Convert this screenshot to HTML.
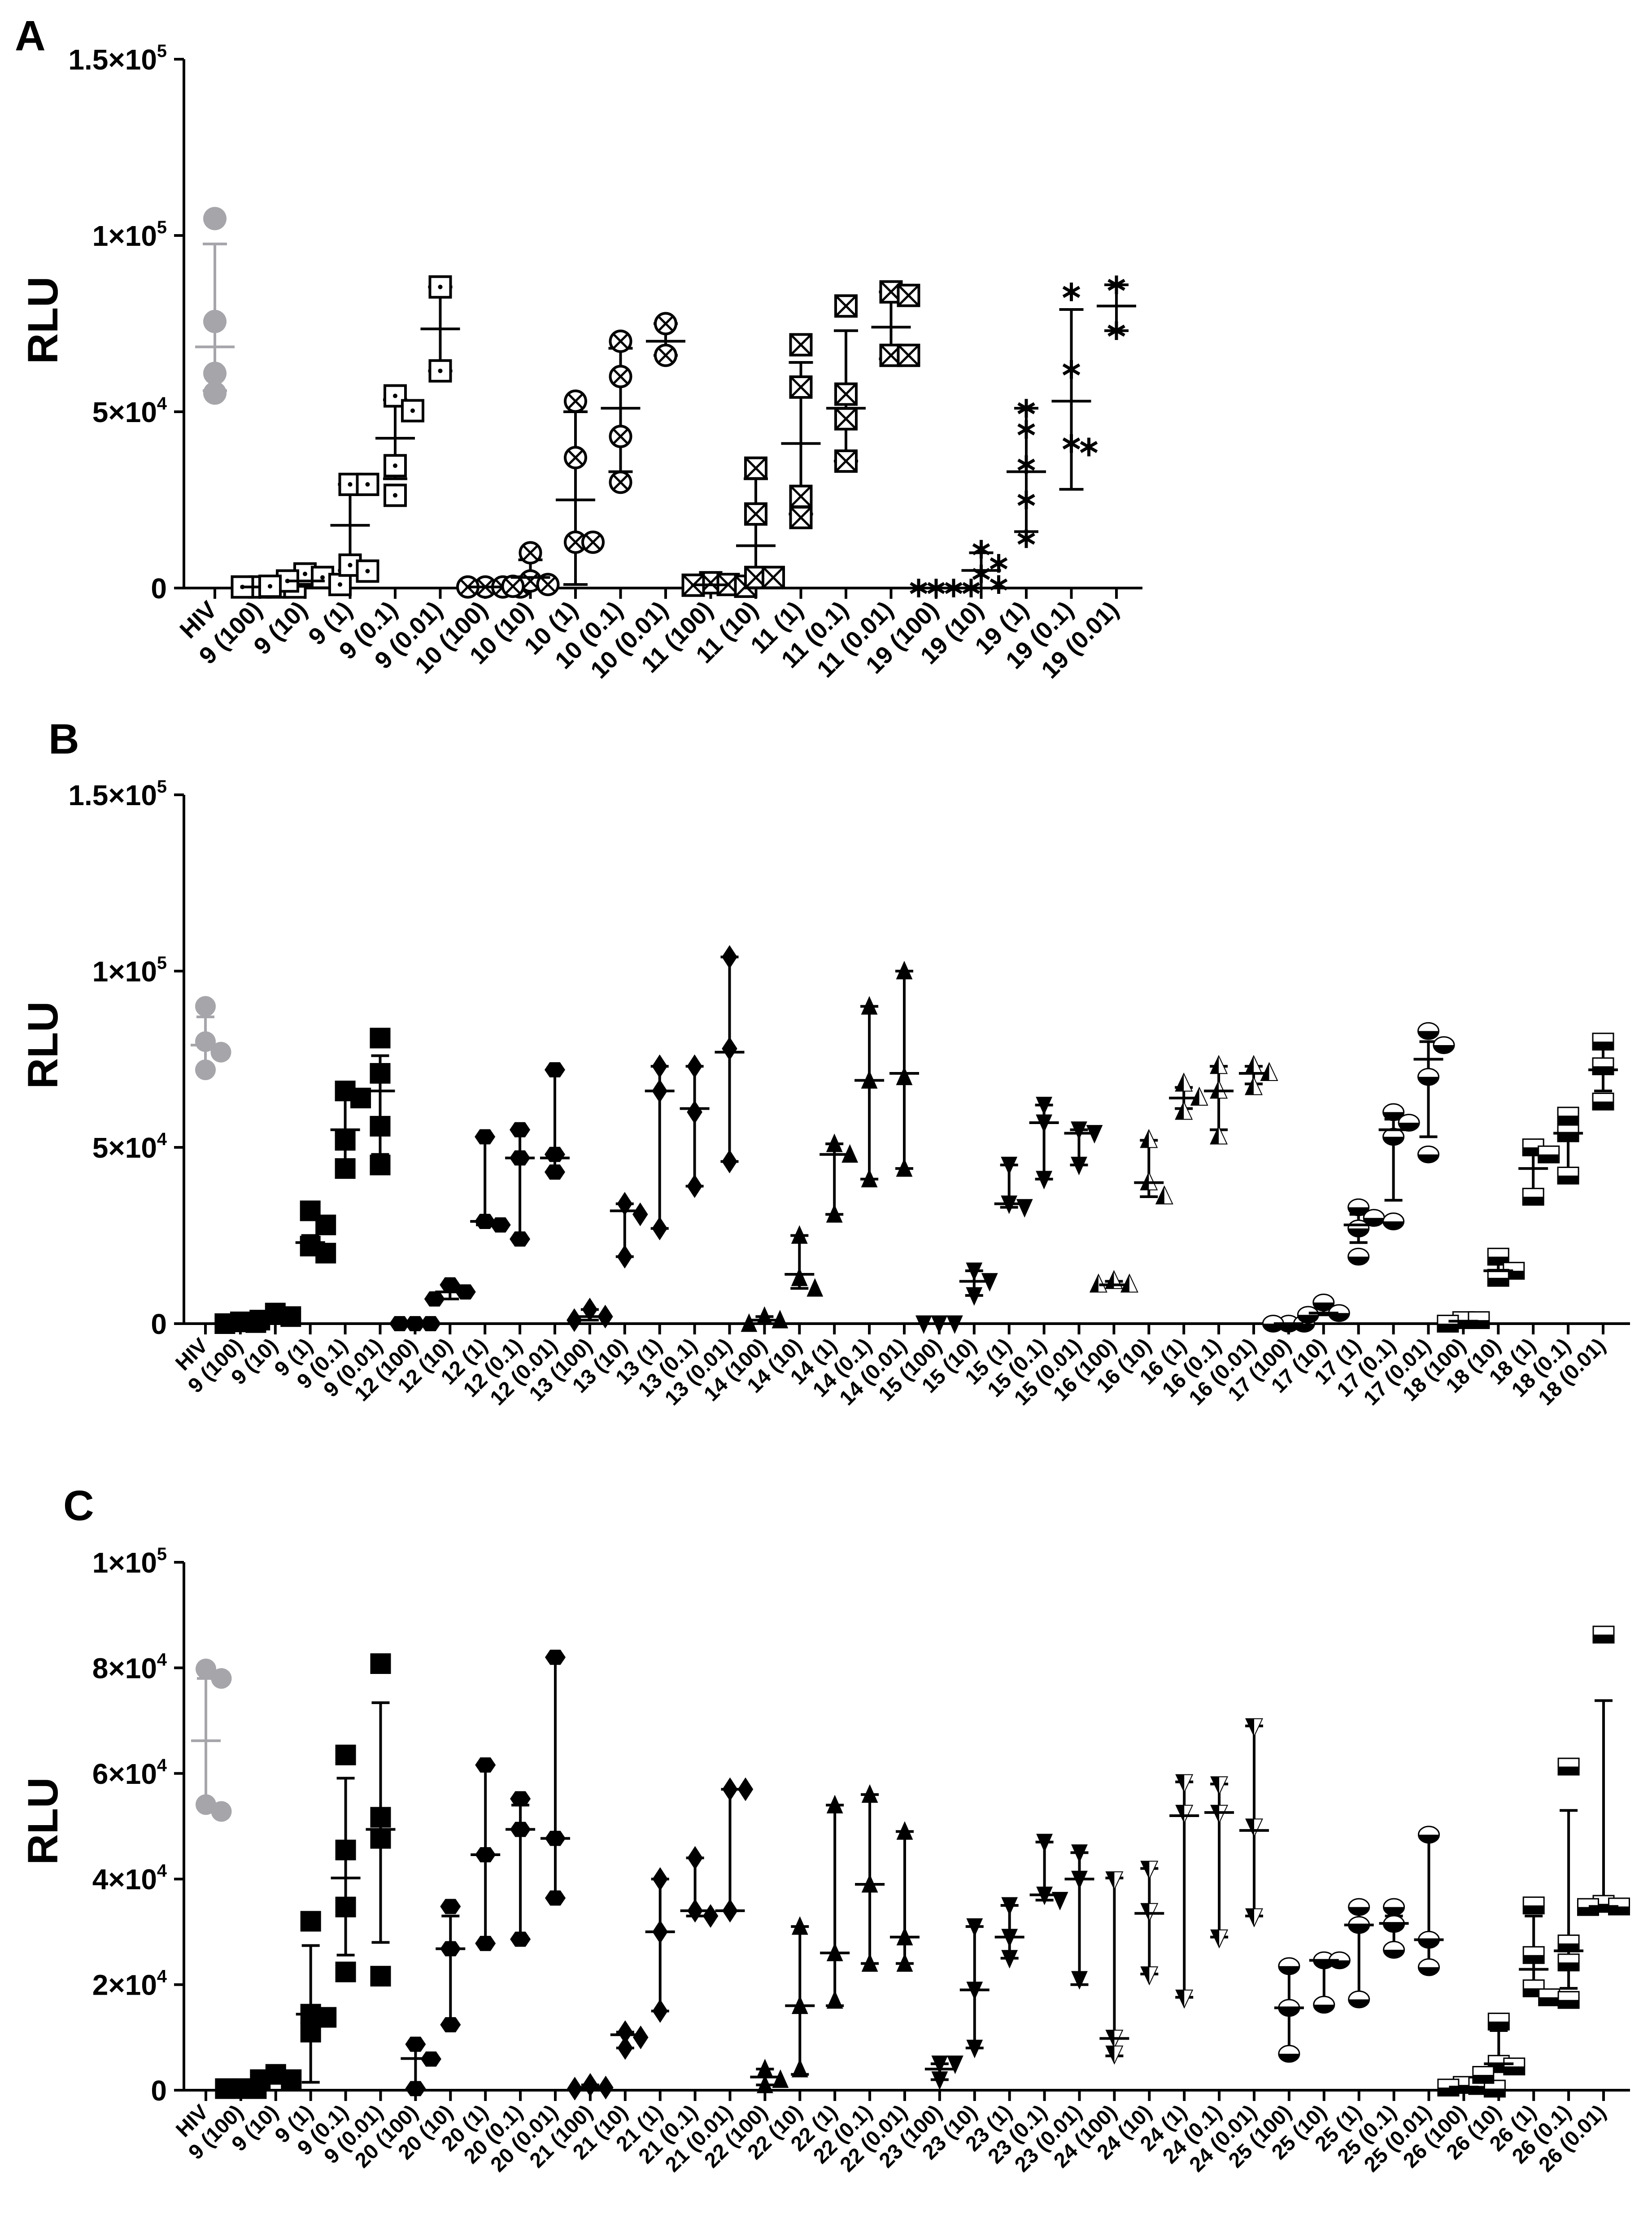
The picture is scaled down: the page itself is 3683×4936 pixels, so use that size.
<!DOCTYPE html>
<html><head><meta charset="utf-8"><style>
html,body{margin:0;padding:0;background:#fff}
svg{display:block}
text{font-family:"Liberation Sans",sans-serif;font-weight:bold;fill:#000}
</style></head><body>
<svg id="chart" width="3683" height="4936" viewBox="0 0 3683 4936" xmlns="http://www.w3.org/2000/svg">
<text x="33" y="112" font-size="95">A</text>
<text x="108" y="1680" font-size="95">B</text>
<text x="141" y="3389" font-size="95">C</text>
</svg>
<script>
// ---------- Panel A data ----------
const catsA = ["HIV","9 (100)","9 (10)","9 (1)","9 (0.1)","9 (0.01)","10 (100)","10 (10)","10 (1)","10 (0.1)","10 (0.01)","11 (100)","11 (10)","11 (1)","11 (0.1)","11 (0.01)","19 (100)","19 (10)","19 (1)","19 (0.1)","19 (0.01)"];
const ptsA = [[104800,75600,60900,55300],[300,300,300,300],[4000,2000,1000,3000,500],[29400,29400,6500,4800],[50300,54500,34700,26300],[85400,61600],
[300,300,300,300],[10000,1000,2000,500],[53000,37000,13000,13000],[70000,60000,43000,30000],[75000,66000],
[1500,800,500,1000],[34000,21000,3000,3000],[69000,57000,26000,20000],[80000,55000,48000,36000],[84000,83000,66000,66000],
[0,0,0,0],[11000,7000,4000,1000],[51000,45000,35000,25000,14000],[84000,62000,41000,40000],[86000,73000]];
const midA = [68400,300,2000,17800,42500,73500,300,3000,25000,51000,70000,900,12000,41000,51000,74000,0,5000,33000,53000,80000];
const loA  = [56000,300,500,5000,31000,61600,300,0,1000,33000,66000,300,0,21000,36000,65000,0,0,16000,28000,73000];
const hiA  = [97600,1000,4000,29400,53400,85400,300,8000,50000,68000,75000,1500,31000,64000,73000,84000,0,10000,51000,79000,86000];
const mkA  = ["gray","sqdot","sqdot","sqdot","sqdot","sqdot","circx","circx","circx","circx","circx","sqx","sqx","sqx","sqx","sqx","star","star","star","star","star"];
const ticksA = [0,50000,100000,150000];
const tickLabA = [["0",""],["5×10","4"],["1×10","5"],["1.5×10","5"]];

// ---------- Panel B data ----------
const catsB = ["HIV","9 (100)","9 (10)","9 (1)","9 (0.1)","9 (0.01)","12 (100)","12 (10)","12 (1)","12 (0.1)","12 (0.01)","13 (100)","13 (10)","13 (1)","13 (0.1)","13 (0.01)","14 (100)","14 (10)","14 (1)","14 (0.1)","14 (0.01)","15 (100)","15 (10)","15 (1)","15 (0.1)","15 (0.01)","16 (100)","16 (10)","16 (1)","16 (0.1)","16 (0.01)","17 (100)","17 (10)","17 (1)","17 (0.1)","17 (0.01)","18 (100)","18 (10)","18 (1)","18 (0.1)","18 (0.01)"];
const ptsB = [[90000,80000,77000,72000],[0,300,500],[2000,1000,3000],[32000,28000,22000,20000],[66000,64000,52000,44000],[81000,71000,56000,45000],
[0,0,0],[11000,9000,7000],[53000,29000,28000],[55000,47000,24000],[72000,48000,43000],
[4000,1000,2000],[34000,31000,19000],[73000,66000,27000],[73000,60000,39000],[104000,78000,46000],
[1000,2000,0],[25000,13000,10000],[51000,48000,31000],[90000,69000,41000],[100000,70000,44000],
[0,0,0],[15000,12000,8000],[45000,34000,33000],[62000,57000,41000],[55000,54000,45000],
[12000,11000,11000],[52000,40000,36000],[68000,64000,60000],[73000,66000,53000],[73000,71000,67000],
[0,0,0],[6000,3000,2500],[33000,30000,27000,19000],[60000,57000,53000,29000],[83000,79000,70000,48000],
[0,1000,1000],[19000,15000,13000],[50000,48000,36000],[59000,54000,42000],[80000,73000,63000]];
const midB = [79000,200,2000,23000,55000,66000,0,9000,29000,47000,47000,2000,32000,66000,61000,77000,1000,14000,48000,69000,71000,0,12000,34000,57000,54000,11000,40000,64000,66000,71000,0,3000,28000,55000,75000,700,15000,44000,54000,72000];
const loB  = [72000,0,1000,20000,45000,48000,0,7000,28000,24000,43000,1000,19000,27000,39000,46000,0,10000,31000,41000,44000,0,8000,33000,41000,45000,11000,36000,61000,55000,68000,0,2500,23000,35000,53000,0,13000,36000,42000,66000];
const hiB  = [87000,500,3000,25000,65000,76000,0,11000,53000,55000,72000,4000,34000,73000,73000,104000,2000,25000,51000,90000,100000,0,15000,45000,62000,55000,12000,52000,67000,73000,73000,0,6000,31000,58000,80000,1000,17000,48000,57000,78000];
const mkB  = ["gray","square","square","square","square","square","hex","hex","hex","hex","hex","diamond","diamond","diamond","diamond","diamond","tri","tri","tri","tri","tri","tridown","tridown","tridown","tridown","tridown","halftri","halftri","halftri","halftri","halftri","halfcirc","halfcirc","halfcirc","halfcirc","halfcirc","halfsq","halfsq","halfsq","halfsq","halfsq"];
const ticksB = [0,50000,100000,150000];
const tickLabB = [["0",""],["5×10","4"],["1×10","5"],["1.5×10","5"]];

// ---------- Panel C data ----------
const catsC = ["HIV","9 (100)","9 (10)","9 (1)","9 (0.1)","9 (0.01)","20 (100)","20 (10)","20 (1)","20 (0.1)","20 (0.01)","21 (100)","21 (10)","21 (1)","21 (0.1)","21 (0.01)","22 (100)","22 (10)","22 (1)","22 (0.1)","22 (0.01)","23 (100)","23 (10)","23 (1)","23 (0.1)","23 (0.01)","24 (100)","24 (10)","24 (1)","24 (0.1)","24 (0.01)","25 (100)","25 (10)","25 (1)","25 (0.1)","25 (0.01)","26 (100)","26 (10)","26 (1)","26 (0.1)","26 (0.01)"];
const ptsC = [[79800,78000,54100,52800],[300,300,300],[3000,2000,2000],[32000,14400,13800,11000],[63500,45500,34700,22400],[80800,51700,47700,21600],
[8700,5900,300],[34800,26800,12400],[61600,44600,27800],[55200,49400,28600],[82000,47700,36400],
[1000,500,300],[11000,10000,8000],[40000,30000,15000],[44000,34000,33000],[57000,57000,34000],
[4000,2000,1000],[31000,16000,4000],[54000,26000,17000],[56000,39000,24000],[49000,29000,24000],
[5000,5000,2000],[31000,19000,8000],[35000,29000,25000],[47000,37000,36000],[45000,40000,21000],
[40000,10000,7000],[42000,34000,22000],[58400,52600,17600],[58000,52600,29000],[69000,50000,33000],
[23500,15600,6900],[24600,24600,16200],[34700,31300,17200],[34700,31500,26600],[48400,28500,23300],
[500,1000,300,800],[13000,5000,4500,2900],[35000,25600,19300,17600],[61300,27800,24200,17100],[86300,35300,34800,34700]];
const midC = [66200,300,2300,14400,40200,49400,6000,26800,44600,49400,47700,500,10500,30000,34000,34000,2500,16000,26000,39000,29000,4000,19000,29000,37000,40000,9800,33500,52000,52600,49200,15600,24600,31300,31600,28500,600,5000,22900,26400,34800];
const loC  = [54000,300,2000,1500,25600,28000,300,12400,27800,28600,36400,300,8000,15000,33000,34000,1000,3000,16000,24000,24000,2000,8000,25000,36000,20000,6500,22000,17600,29000,33000,6900,16200,17200,26600,23300,300,3500,19300,19300,34700];
const hiC  = [78000,300,3000,27400,59100,73400,8700,33000,61600,54000,82000,1000,11000,40000,44000,57000,4000,31000,54000,56000,49000,5000,31000,35000,47000,45000,40200,42000,58400,58000,69000,23500,24600,34700,33000,48400,1000,11300,33000,53000,73800];
const mkC  = ["gray","square","square","square","square","square","hex","hex","hex","hex","hex","diamond","diamond","diamond","diamond","diamond","tri","tri","tri","tri","tri","tridown","tridown","tridown","tridown","tridown","halftridown","halftridown","halftridown","halftridown","halftridown","halfcirc","halfcirc","halfcirc","halfcirc","halfcirc","halfsq","halfsq","halfsq","halfsq","halfsq"];
const ticksC = [0,20000,40000,60000,80000,100000];
const tickLabC = [["0",""],["2×10","4"],["4×10","4"],["6×10","4"],["8×10","4"],["1×10","5"]];

const NS = "http://www.w3.org/2000/svg";
const svg = document.getElementById("chart");
function mk(tag, attrs, parent){
  const e = document.createElementNS(NS, tag);
  for (const k in attrs) e.setAttribute(k, attrs[k]);
  (parent||svg).appendChild(e);
  return e;
}

function drawMarker(g, type, cx, cy, s){
  const h = s/2, sw = 6;
  let col = "#000";
  if (type === "gray"){
    mk("circle",{cx:cx,cy:cy,r:h,fill:"#a5a5aa"},g); return;
  }
  if (type === "sqdot"){
    mk("rect",{x:cx-h+3,y:cy-h+3,width:s-6,height:s-6,fill:"#fff",stroke:col,"stroke-width":sw},g);
    mk("circle",{cx:cx,cy:cy,r:5,fill:col},g);
  } else if (type === "circx"){
    mk("circle",{cx:cx,cy:cy,r:h-3,fill:"#fff",stroke:col,"stroke-width":sw},g);
    const d = (h-3)*0.7;
    mk("path",{d:`M${cx-d},${cy-d}L${cx+d},${cy+d}M${cx+d},${cy-d}L${cx-d},${cy+d}`,stroke:col,"stroke-width":5},g);
  } else if (type === "sqx"){
    mk("rect",{x:cx-h+3,y:cy-h+3,width:s-6,height:s-6,fill:"#fff",stroke:col,"stroke-width":sw},g);
    mk("path",{d:`M${cx-h+3},${cy-h+3}L${cx+h-3},${cy+h-3}M${cx+h-3},${cy-h+3}L${cx-h+3},${cy+h-3}`,stroke:col,"stroke-width":5},g);
  } else if (type === "star"){
    let d = "";
    for (let i=0;i<3;i++){ const a = Math.PI/2 + i*Math.PI/3; const dx=Math.cos(a)*h*0.8, dy=Math.sin(a)*h*0.8; d += `M${cx-dx},${cy-dy}L${cx+dx},${cy+dy}`; }
    mk("path",{d:d,stroke:col,"stroke-width":7},g);
  } else if (type === "square"){
    mk("rect",{x:cx-h,y:cy-h,width:s,height:s,fill:col},g);
  } else if (type === "hex"){
    let p=[]; for(let i=0;i<6;i++){const a=i*Math.PI/3; p.push((cx+Math.cos(a)*h)+","+(cy+Math.sin(a)*h*0.85));}
    mk("polygon",{points:p.join(" "),fill:col},g);
  } else if (type === "diamond"){
    mk("polygon",{points:`${cx},${cy-h*1.15} ${cx+h*0.75},${cy} ${cx},${cy+h*1.15} ${cx-h*0.75},${cy}`,fill:col},g);
  } else if (type === "tri"){
    mk("polygon",{points:`${cx},${cy-h} ${cx+h*0.8},${cy+h*0.8} ${cx-h*0.8},${cy+h*0.8}`,fill:col},g);
  } else if (type === "tridown"){
    mk("polygon",{points:`${cx},${cy+h} ${cx+h*0.8},${cy-h*0.8} ${cx-h*0.8},${cy-h*0.8}`,fill:col},g);
  } else if (type === "halftri"){
    mk("polygon",{points:`${cx},${cy-h} ${cx+h*0.8},${cy+h*0.7} ${cx-h*0.8},${cy+h*0.7}`,fill:"#fff",stroke:"#000","stroke-width":2},g);
    mk("polygon",{points:`${cx},${cy-h} ${cx},${cy+h*0.7} ${cx-h*0.8},${cy+h*0.7}`,fill:col},g);
  } else if (type === "halftridown"){
    mk("polygon",{points:`${cx},${cy+h} ${cx+h*0.8},${cy-h*0.7} ${cx-h*0.8},${cy-h*0.7}`,fill:"#fff",stroke:"#000","stroke-width":2},g);
    mk("polygon",{points:`${cx},${cy+h} ${cx},${cy-h*0.7} ${cx-h*0.8},${cy-h*0.7}`,fill:col},g);
  } else if (type === "halfcirc"){
    mk("ellipse",{cx:cx,cy:cy,rx:h,ry:h*0.8,fill:"#fff",stroke:"#000","stroke-width":3},g);
    mk("path",{d:`M${cx-h},${cy}A${h},${h*0.8} 0 0 0 ${cx+h},${cy}Z`,fill:col},g);
  } else if (type === "halfsq"){
    mk("rect",{x:cx-h,y:cy-h*0.8,width:s,height:s*0.8,fill:"#fff",stroke:"#000","stroke-width":3},g);
    mk("rect",{x:cx-h,y:cy,width:s,height:h*0.8,fill:col},g);
  }
}

function panel(id, cats, pts, mid, lo, hi, mks, ticks, tickLab, P){
  const yS = v => P.y0 - v*P.k;
  const xS = i => P.x0 + i*P.dx;
  const g = mk("g",{});
  
  
  const ya = mk("line",{x1:P.ax,y1:yS(ticks[ticks.length-1]),x2:P.ax,y2:P.y0+3,stroke:"#000","stroke-width":6},g);
  
  
  const xa = mk("line",{x1:P.ax-22,y1:P.y0,x2:P.xe,y2:P.y0,stroke:"#000","stroke-width":6},g);
  
  
  ticks.forEach((t,i)=>{
    const y = yS(t);
    mk("line",{x1:P.ax-22,y1:y,x2:P.ax,y2:y,stroke:"#000","stroke-width":6},g);
    const tx = mk("text",{x:P.ax-38,y:y+23,"font-size":P.tf,"text-anchor":"end"},g);
    
    
    tx.textContent = tickLab[i][0];
    if (tickLab[i][1]){
      const sp = mk("tspan",{dy:-28,"font-size":P.tf*0.62},tx);
      sp.textContent = tickLab[i][1];
    }
  });
  const yl = mk("text",{x:0,y:0,"font-size":P.rf,"text-anchor":"middle",transform:`translate(${P.rx},${P.ry}) rotate(-90)`},g);
  
  
  yl.textContent = "RLU";
  cats.forEach((c,i)=>{
    const x = xS(i);
    mk("line",{x1:x,y1:P.y0,x2:x,y2:P.y0+24,stroke:"#000","stroke-width":6},g);
    const lx = x+8, ly = P.y0+52;
    const t = mk("text",{x:0,y:0,"font-size":P.lf,"text-anchor":"end",transform:`translate(${lx},${ly}) rotate(-45)`},g);
    
    
    t.textContent = c;
  });
  cats.forEach((c,i)=>{
    const x = xS(i);
    const col = mks[i]==="gray" ? "#a5a5aa" : "#000";
    const eg = mk("g",{},g);
    
    
    mk("line",{x1:x,y1:yS(hi[i]),x2:x,y2:yS(lo[i]),stroke:col,"stroke-width":6},eg);
    mk("line",{x1:x-P.cap/2,y1:yS(hi[i]),x2:x+P.cap/2,y2:yS(hi[i]),stroke:col,"stroke-width":6},eg);
    mk("line",{x1:x-P.cap/2,y1:yS(lo[i]),x2:x+P.cap/2,y2:yS(lo[i]),stroke:col,"stroke-width":6},eg);
    const placed = [];
    const s = P.ms;
    const order = pts[i].map((v,j)=>j).sort((a,b)=>pts[i][b]-pts[i][a]);
    order.forEach(j=>{
      const py = yS(pts[i][j]);
      const cand = [0,1,-1,2,-2,3,-3];
      let off = x;
      for (const k of cand){
        const px = x + k*s*0.75;
        if (placed.every(q => Math.hypot(q[0]-px, q[1]-py) >= s*0.75)){ off = px; break; }
      }
      placed.push([off,py]);
      const mg = mk("g",{},g);
      
      
      drawMarker(mg, mks[i], off, py, s);
    });
    const ml = mk("line",{x1:x-P.mw/2,y1:yS(mid[i]),x2:x+P.mw/2,y2:yS(mid[i]),stroke:col,"stroke-width":6},g);
    
    
  });
}

panel("panel-a", catsA, ptsA, midA, loA, hiA, mkA, ticksA, tickLabA,
  {ax:410, y0:1311, k:393/50000, x0:479, dx:100.5, xe:2547, tf:64, lf:54, rf:95, rx:128, ry:714, ms:52, mw:88, cap:54});
panel("panel-b", catsB, ptsB, midB, loB, hiB, mkB, ticksB, tickLabB,
  {ax:410, y0:2951, k:393/50000, x0:458, dx:77.9, xe:3634, tf:64, lf:47, rf:95, rx:128, ry:2330, ms:46, mw:66, cap:40});
panel("panel-c", catsC, ptsC, midC, loC, hiC, mkC, ticksC, tickLabC,
  {ax:410, y0:4660, k:235.4/20000, x0:459, dx:77.9, xe:3634, tf:64, lf:47, rf:95, rx:128, ry:4060, ms:46, mw:66, cap:40});
</script>
</body></html>
